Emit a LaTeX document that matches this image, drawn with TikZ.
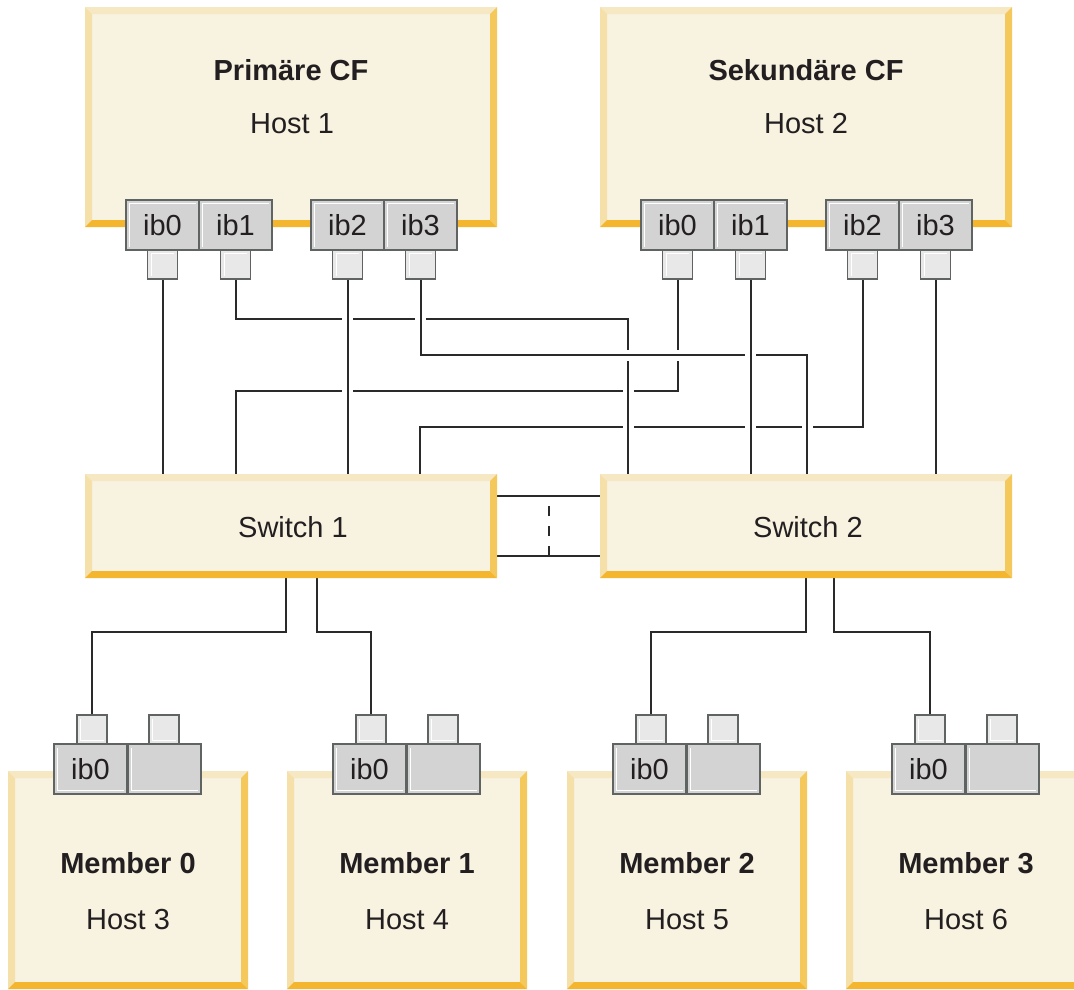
\documentclass[tikz,border=0pt]{standalone}
\usepackage{fontspec}
\setmainfont{Liberation Sans}
\usetikzlibrary{calc}
\pgfdeclarelayer{wires}
\pgfsetlayers{wires,main}
\definecolor{boxfill}{HTML}{F8F2E1}
\definecolor{bevtop}{HTML}{F6E8C3}
\definecolor{bevleft}{HTML}{F6E0AA}
\definecolor{bevright}{HTML}{F4C85A}
\definecolor{bevbot}{HTML}{F3B62E}
\definecolor{portfill}{HTML}{D3D3D3}
\definecolor{connfill}{HTML}{E8E8E8}
\definecolor{portline}{HTML}{5F6361}
\definecolor{wire}{HTML}{2A2A2A}
\definecolor{ink}{HTML}{231F20}
\tikzset{
  bevelbox/.style={fill=boxfill, inner sep=0pt, outer sep=0pt, anchor=north west,
    path picture={
      \fill[bevtop] (path picture bounding box.north west) -- (path picture bounding box.north east)
        -- ($(path picture bounding box.north east)+(-7pt,-7pt)$) -- ($(path picture bounding box.north west)+(7pt,-7pt)$) -- cycle;
      \fill[bevleft] (path picture bounding box.north west) -- ($(path picture bounding box.north west)+(7pt,-7pt)$)
        -- ($(path picture bounding box.south west)+(7pt,7pt)$) -- (path picture bounding box.south west) -- cycle;
      \fill[bevright] (path picture bounding box.north east) -- ($(path picture bounding box.north east)+(-7pt,-7pt)$)
        -- ($(path picture bounding box.south east)+(-7pt,7pt)$) -- (path picture bounding box.south east) -- cycle;
      \fill[bevbot] (path picture bounding box.south west) -- ($(path picture bounding box.south west)+(7pt,7pt)$)
        -- ($(path picture bounding box.south east)+(-7pt,7pt)$) -- (path picture bounding box.south east) -- cycle;
    }},
  hiTL/.style={path picture={
      \draw[white, line width=1pt] ($(path picture bounding box.south west)+(3.5pt,3.5pt)$)
        -- ($(path picture bounding box.north west)+(3.5pt,-3.5pt)$)
        -- ($(path picture bounding box.north east)+(-3.5pt,-3.5pt)$);}},
  hiBL/.style={path picture={
      \draw[white, line width=1pt] ($(path picture bounding box.north west)+(3.5pt,-3.5pt)$)
        -- ($(path picture bounding box.south west)+(3.5pt,3.5pt)$)
        -- ($(path picture bounding box.south east)+(-3.5pt,3.5pt)$);}},
  port/.style={draw=portline, line width=1.9pt, fill=portfill, minimum width=73pt, minimum height=50pt,
    inner sep=0pt, outer sep=0pt, anchor=north west, font=\fontsize{29}{35}\selectfont, text=ink},
  conn/.style={draw=portline, line width=1.9pt, fill=connfill, minimum width=30pt, minimum height=29pt,
    inner sep=0pt, outer sep=0pt},
  headtxt/.style={font=\fontsize{29}{35}\selectfont\bfseries, text=ink},
  subtxt/.style={font=\fontsize{29}{35}\selectfont, text=ink},
  link/.style={draw=wire, line width=2pt, preaction={draw=white, line width=11pt}},
  plain/.style={draw=wire, line width=2pt},
}
\begin{document}
\begin{tikzpicture}[x=1pt,y=-1pt]
\clip (0,0) rectangle (1074,989);
% host and switch boxes
\node[bevelbox, minimum width=412pt, minimum height=220pt] (h1) at (85,7) {};
\node[bevelbox, minimum width=412pt, minimum height=220pt] (h2) at (600,7) {};
\node[bevelbox, minimum width=412pt, minimum height=104pt] (sw1) at (85,474) {};
\node[bevelbox, minimum width=412pt, minimum height=104pt] (sw2) at (600,474) {};
% member boxes
\foreach \i/\x/\h in {0/8/3, 1/287/4, 2/567/5, 3/846/6}{
  \node[bevelbox, minimum width=240pt, minimum height=218pt] (m\i) at (\x,771) {};
  \node[headtxt] (m\i n) at ({\x+120},863) {Member \i};
  \node[subtxt] (m\i h) at ({\x+120},920) {Host \h};
}
% texts
\node[headtxt] (h1n) at (291,70) {Primäre CF};
\node[subtxt] (h1h) at (292,124) {Host 1};
\node[headtxt] (h2n) at (806,70) {Sekundäre CF};
\node[subtxt] (h2h) at (806,124) {Host 2};
\node[subtxt] (sw1t) at (293,527) {Switch 1};
\node[subtxt] (sw2t) at (808,527) {Switch 2};
% host ports
\foreach \j/\x/\t in {0/126/ib0, 1/199/ib1, 2/311/ib2, 3/384/ib3}{
  \node[port, hiTL] (h1p\j) at (\x,200) {\t};
  \node[conn, hiTL, anchor=north] (h1c\j) at (h1p\j.south) {};
  \node[port, hiTL] (h2p\j) at ({\x+515},200) {\t};
  \node[conn, hiTL, anchor=north] (h2c\j) at (h2p\j.south) {};
}
% member ports
\foreach \i/\x in {0/8, 1/287, 2/567, 3/846}{
  \node[port, hiBL] (m\i p0) at ({\x+46},744) {ib0};
  \node[port, hiBL] (m\i p1) at ({\x+120},744) {};
  \node[conn, hiBL, anchor=south] (m\i c0) at ({\x+84},744) {};
  \node[conn, hiBL, anchor=south] (m\i c1) at ({\x+156},744) {};
}
% switch entry points
\coordinate (s2a) at ($(sw2.north west)+(28pt,0)$);
\coordinate (s2b) at ($(sw2.north west)+(207pt,0)$);
\coordinate (s1c) at ($(sw1.north west)+(151pt,0)$);
\coordinate (s1d) at ($(sw1.north west)+(335pt,0)$);
\coordinate (s1o1) at ($(sw1.south west)+(201pt,0)$);
\coordinate (s1o2) at ($(sw1.south west)+(232pt,0)$);
\coordinate (s2o1) at ($(sw2.south west)+(206pt,0)$);
\coordinate (s2o2) at ($(sw2.south west)+(234pt,0)$);
\coordinate (isl1) at ($(sw1.north east)+(0,-22pt)$);
\coordinate (isl2) at ($(sw2.north west)+(0,-22pt)$);
\coordinate (isl3) at ($(sw1.south east)+(0,22pt)$);
\coordinate (isl4) at ($(sw2.south west)+(0,22pt)$);
\coordinate (dsh1) at ($(isl3)!0.5!(isl4)$);
\coordinate (dsh2) at ($(isl1)!0.5!(isl2)$);
\begin{pgfonlayer}{wires}
  % crossing links, drawn in order so later ones pass over earlier ones
  \draw[link] (h2c2.south) -- ++(0,148) -| (s1d);
  \draw[link] (h2c0.south) -- ++(0,112) -| (s1c);
  \draw[link] (h1c1.south) -- ++(0,40) -| (s2a);
  \draw[link] (h1c3.south) -- ++(0,76) -| (s2b);
  \draw[link] (h1c0.south) -- (h1c0.south |- sw1.north);
  \draw[link] (h1c2.south) -- (h1c2.south |- sw1.north);
  \draw[link] (h2c1.south) -- (h2c1.south |- sw2.north);
  \draw[link] (h2c3.south) -- (h2c3.south |- sw2.north);
  % inter-switch links
  \draw[plain] (isl1) -- (isl2);
  \draw[plain] (isl3) -- (isl4);
  \draw[plain, dash pattern=on 10pt off 10pt] (dsh1) -- (dsh2);
  % switch to members
  \draw[plain] (s1o1) -- ++(0,54) -| (m0c0.north);
  \draw[plain] (s1o2) -- ++(0,54) -| (m1c0.north);
  \draw[plain] (s2o1) -- ++(0,54) -| (m2c0.north);
  \draw[plain] (s2o2) -- ++(0,54) -| (m3c0.north);
\end{pgfonlayer}
\end{tikzpicture}
\end{document}
